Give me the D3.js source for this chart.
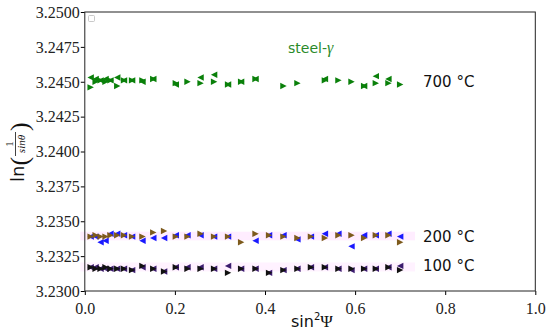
<!DOCTYPE html>
<html><head><meta charset="utf-8">
<script src="https://cdn.jsdelivr.net/npm/d3@7"></script>
<style>html,body{margin:0;padding:0;background:#fff;}svg{display:block;}
.serif{font-family:"Liberation Serif","DejaVu Serif",serif !important;}
.sans{font-family:"DejaVu Sans",sans-serif;}
</style>
</head><body>
<svg id="chart" width="550" height="335"></svg>
<script>
// ---- data ----
const sin2psi = [0.013,0.024,0.035,0.046,0.057,0.072,0.087,0.105,0.128,0.152,0.176,0.202,0.228,0.257,0.287,0.318,0.347,0.379,0.409,0.441,0.472,0.502,0.533,0.563,0.592,0.620,0.646,0.674,0.700];
const t700Left  = [3.2453,3.2452,3.2451,3.2452,3.2451,3.2453,3.2451,3.2451,3.2450,3.2452,null,3.2448,null,3.2453,3.2455,3.2448,3.2450,3.2452,null,null,null,null,3.2452,null,null,3.2447,3.2454,3.2452,null];
const t700Right = [3.2446,3.2450,3.2451,3.2450,3.2451,3.2447,3.2451,3.2451,3.2451,3.2452,null,3.2449,3.2450,3.2449,3.2450,3.2448,3.2450,3.2452,null,3.2447,3.2449,null,3.2451,3.2451,3.2450,3.2447,3.2449,3.2449,3.2448];
const t200Left  = [3.2339,3.2339,3.2335,3.2336,3.2341,3.2341,3.2340,3.2339,3.2336,3.2338,3.2338,3.2340,3.2340,3.2340,3.2339,3.2339,null,3.2336,3.2340,3.2340,3.2337,3.2339,3.2341,3.2341,3.2332,3.2340,3.2340,3.2341,3.2339];
const t200Right = [3.2339,3.2340,3.2339,3.2339,3.2340,3.2340,3.2340,3.2339,3.2339,3.2342,3.2343,3.2339,3.2339,3.2341,3.2339,3.2339,3.2335,3.2341,3.2340,3.2339,3.2338,3.2339,3.2338,3.2340,3.2340,3.2338,3.2340,3.2340,3.2335];
const t100Left  = [3.2317,3.2317,3.2316,3.2316,3.2316,3.2316,3.2316,3.2315,3.2317,3.2316,3.2314,3.2317,3.2317,3.2317,3.2316,3.2318,3.2316,3.2316,3.2313,3.2315,3.2316,3.2317,3.2317,3.2316,3.2315,3.2316,3.2316,3.2317,3.2318];
const t100Right = [3.2317,3.2316,3.2316,3.2317,3.2316,3.2316,3.2316,3.2315,3.2318,3.2316,3.2314,3.2317,3.2316,3.2316,3.2316,3.2313,3.2316,3.2316,3.2313,3.2315,3.2316,3.2317,3.2317,3.2316,3.2316,3.2316,3.2316,3.2317,3.2315];
// uncertainty bands [x0, x1, yLow, yHigh]
const band200 = [-0.01, 0.733, 3.23363, 3.23425];
const band100 = [-0.01, 0.733, 3.23140, 3.23205];
const xTicks = [0.0,0.2,0.4,0.6,0.8,1.0];
const yTicks = [3.2300,3.2325,3.2350,3.2375,3.2400,3.2425,3.2450,3.2475,3.2500];
const tempLabels = [{t:"700 °C", v:3.2450},{t:"200 °C", v:3.2339},{t:"100 °C", v:3.2318}];

// ---- layout ----
const L = 84.8, R = 535.3, T = 12, B = 291;
const svg = d3.select("#chart");
const x = d3.scaleLinear().domain([0,1]).range([L,R]);
const y = d3.scaleLinear().domain([3.23,3.25]).range([B,T]);

function band(b, op){
  svg.append("rect").attr("x", x(b[0])).attr("width", x(b[1])-x(b[0]))
    .attr("y", y(b[3])).attr("height", y(b[2])-y(b[3]))
    .attr("fill","#ff00ff").attr("opacity",op);
}
band(band200, 0.07);
band(band100, 0.05);

// axes
const xAxis = svg.append("g").attr("transform",`translate(0,${B})`)
  .call(d3.axisBottom(x).tickValues(xTicks).tickFormat(d3.format(".1f")).tickSize(4).tickSizeOuter(0));
const yAxis = svg.append("g").attr("transform",`translate(${L},0)`)
  .call(d3.axisLeft(y).tickValues(yTicks).tickFormat(d3.format(".4f")).tickSize(4).tickSizeOuter(0));
[xAxis,yAxis].forEach(g=>{
  g.attr("font-family",null);
  g.select(".domain").remove();
  g.selectAll("line").attr("stroke","#000").attr("stroke-width",1);
  g.selectAll("text").attr("class","serif").style("font-size","16px").attr("fill","#222");
});
xAxis.selectAll("text").attr("dy","1.0em");
yAxis.selectAll("text").attr("x",-5).attr("dy","0.33em");
// frame
svg.append("rect").attr("x",L).attr("y",T).attr("width",R-L).attr("height",B-T)
  .attr("fill","none").attr("stroke","#222").attr("stroke-width",1);

// empty legend box
svg.append("rect").attr("x",88.5).attr("y",15.5).attr("width",6).attr("height",6)
  .attr("rx",1).attr("fill","#fff").attr("stroke","#bbb").attr("stroke-width",0.8);

// markers
const s = 3.2;
const leftTri = `M${-s},0L${s},${-s}L${s},${s}Z`;
const rightTri = `M${s},0L${-s},${-s}L${-s},${s}Z`;
function series(vals, path, color){
  svg.append("g").selectAll("path")
    .data(vals.map((v,i)=>({x:sin2psi[i], v})).filter(d=>d.v!==null))
    .join("path")
    .attr("d", path)
    .attr("transform", d=>`translate(${x(d.x)},${y(d.v)})`)
    .attr("fill", color);
}
series(t700Left, leftTri, "#0a800a");
series(t700Right, rightTri, "#0a800a");
series(t200Left, leftTri, "#1a1aff");
series(t200Right, rightTri, "#7d5a1c");
series(t100Left, leftTri, "#3b1c6e");
series(t100Right, rightTri, "#111");

// temperature labels
svg.append("g").selectAll("text").data(tempLabels).join("text")
  .attr("class","sans")
  .attr("x", 423).attr("y", d=>y(d.v)).attr("dy","0.36em")
  .attr("font-size",15).attr("fill","#111")
  .text(d=>d.t);

// steel-gamma
const st = svg.append("text").attr("class","sans").attr("x",288).attr("y",53)
  .attr("font-size",14).attr("fill","#2a8a2a");
st.append("tspan").text("steel-");
st.append("tspan").attr("class","serif").attr("font-style","italic").attr("font-size",16).text("γ");

// x label
const xl = svg.append("text").attr("class","sans").attr("x",291).attr("y",327).attr("font-size",16).attr("fill","#111");
xl.append("tspan").text("sin");
xl.append("tspan").attr("font-size",10).attr("dy",-7).text("2");
xl.append("tspan").attr("class","serif").attr("font-size",17).attr("dy",7).text("Ψ");

// y label
const yl = svg.append("g").attr("transform","translate(24,182) rotate(-90)").attr("fill","#111");
yl.append("text").attr("class","sans").attr("x",0).attr("y",0).attr("font-size",18).text("ln");
yl.append("text").attr("class","serif").attr("x",16.5).attr("y",4).attr("font-size",26).text("(");
yl.append("text").attr("class","serif").attr("x",38).attr("y",-11).attr("text-anchor","middle").attr("font-size",11).text("1");
yl.append("line").attr("x1",26).attr("x2",50).attr("y1",-8.5).attr("y2",-8.5).attr("stroke","#111").attr("stroke-width",0.8);
yl.append("text").attr("class","serif").attr("x",38).attr("y",1).attr("text-anchor","middle").attr("font-style","italic").attr("font-size",11).text("sinθ");
yl.append("text").attr("class","serif").attr("x",51).attr("y",4).attr("font-size",26).text(")");
</script>
</body></html>
